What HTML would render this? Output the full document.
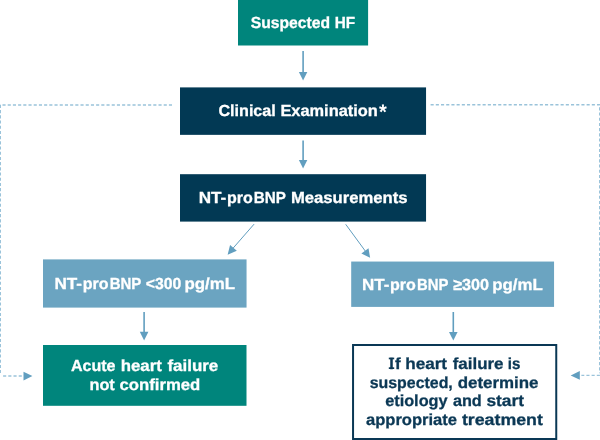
<!DOCTYPE html>
<html>
<head>
<meta charset="utf-8">
<title>Suspected HF flowchart</title>
<style>
  html, body { margin: 0; padding: 0; background: #ffffff; }
  body { width: 600px; height: 440px; overflow: hidden; }
  svg { display: block; }
  text {
    font-family: "Liberation Sans", sans-serif;
    font-weight: bold;
    font-size: 16px;
    text-rendering: geometricPrecision;
  }
  .w { fill: #ffffff; stroke: #ffffff; stroke-width: 0.3px; }
  .a { font-size: 21px; stroke-width: 0; }
  .n { fill: #0b3855; stroke: #0b3855; stroke-width: 0.3px; }
</style>
</head>
<body>
<svg width="600" height="440" viewBox="0 0 600 440">
  <rect x="0" y="0" width="600" height="440" fill="#ffffff"/>

  <!-- dashed side connectors -->
  <g fill="none" stroke="#9ac3da" stroke-width="1.4" stroke-dasharray="3.1 2.1">
    <path d="M172 105 H0.3 V373"/>
    <path d="M3.1 376 H23.5"/>
    <path d="M430.6 104.8 H599.7 V373.2"/>
    <path d="M599.9 375.4 H581.4"/>
  </g>
  <g fill="#619ebf">
    <path d="M23.5 371.8 L32.4 376 L23.5 380.4 Z"/>
    <path d="M579.8 371 L570.7 375.4 L579.8 379.8 Z"/>
  </g>

  <!-- boxes -->
  <rect x="238" y="0" width="130.1" height="45.5" fill="#00857c"/>
  <rect x="180" y="87.4" width="246.05" height="47.45" fill="#023954"/>
  <rect x="180" y="174.2" width="246.05" height="47.4" fill="#023954"/>
  <rect x="43" y="259.4" width="203.55" height="48.2" fill="#6ba4c1"/>
  <rect x="351.2" y="261.55" width="202.85" height="45.35" fill="#6ba4c1"/>
  <rect x="43" y="345" width="203.5" height="60.8" fill="#00857c"/>
  <rect x="353.05" y="345" width="203.2" height="94" fill="#ffffff" stroke="#0a3855" stroke-width="2"/>

  <!-- solid arrows -->
  <g stroke="#619ebf" stroke-width="1.6" fill="none">
    <path d="M303.1 51 V73"/>
    <path d="M303.1 140.5 V161"/>
    <path d="M144.1 312 V333"/>
    <path d="M453.3 312 V333"/>
  </g>
  <g stroke="#619ebf" stroke-width="1" fill="none">
    <path d="M254.1 224.1 L232 249.4"/>
    <path d="M345.7 224.3 L366 252"/>
  </g>
  <g fill="#619ebf">
    <path d="M298.9 71.9 H307.3 L303.1 80.5 Z"/>
    <path d="M298.9 160.1 H307.3 L303.1 168.6 Z"/>
    <path d="M139.8 331.7 H148.4 L144.1 340.4 Z"/>
    <path d="M449 331.9 H457.6 L453.3 340.4 Z"/>
    <path d="M227.6 254.7 L230.1 245 L236.8 250.8 Z"/>
    <path d="M370.1 257.8 L361.4 253.5 L368.5 248.3 Z"/>
  </g>

  <!-- labels -->
  <g style="will-change: transform">
    <text class="w" x="250.70" y="27.75" textLength="79.35" lengthAdjust="spacingAndGlyphs">Suspected</text>
    <text class="w" x="334.71" y="27.75" textLength="20.34" lengthAdjust="spacingAndGlyphs">HF</text>
    <text class="w" x="218.45" y="116.25" textLength="57.35" lengthAdjust="spacingAndGlyphs">Clinical</text>
    <text class="w" x="280.45" y="116.25" textLength="97.35" lengthAdjust="spacingAndGlyphs">Examination</text>
    <text class="w a" x="378.96" y="118.9" textLength="7.80" lengthAdjust="spacingAndGlyphs">*</text>
    <text class="w" x="198.70" y="202.75" textLength="27.60" lengthAdjust="spacingAndGlyphs">NT-</text>
    <text class="w" x="226.96" y="202.75" textLength="25.84" lengthAdjust="spacingAndGlyphs">pro</text>
    <text class="w" x="253.70" y="202.75" textLength="32.10" lengthAdjust="spacingAndGlyphs">BNP</text>
    <text class="w" x="290.95" y="202.75" textLength="116.60" lengthAdjust="spacingAndGlyphs">Measurements</text>
    <text class="w" x="54.45" y="288.6" textLength="27.60" lengthAdjust="spacingAndGlyphs">NT-</text>
    <text class="w" x="82.70" y="288.6" textLength="25.84" lengthAdjust="spacingAndGlyphs">pro</text>
    <text class="w" x="109.71" y="288.6" textLength="31.59" lengthAdjust="spacingAndGlyphs">BNP</text>
    <text class="w" x="145.71" y="288.6" textLength="35.59" lengthAdjust="spacingAndGlyphs">&lt;300</text>
    <text class="w" x="184.46" y="288.6" textLength="50.59" lengthAdjust="spacingAndGlyphs">pg/mL</text>
    <text class="w" x="361.96" y="289.6" textLength="27.34" lengthAdjust="spacingAndGlyphs">NT-</text>
    <text class="w" x="389.95" y="289.6" textLength="25.84" lengthAdjust="spacingAndGlyphs">pro</text>
    <text class="w" x="416.95" y="289.6" textLength="31.34" lengthAdjust="spacingAndGlyphs">BNP</text>
    <text class="w" x="453.21" y="289.6" textLength="35.83" lengthAdjust="spacingAndGlyphs">&#8805;300</text>
    <text class="w" x="492.21" y="289.6" textLength="50.59" lengthAdjust="spacingAndGlyphs">pg/mL</text>
    <text class="w" x="70.95" y="370.9" textLength="44.59" lengthAdjust="spacingAndGlyphs">Acute</text>
    <text class="w" x="120.71" y="370.9" textLength="41.09" lengthAdjust="spacingAndGlyphs">heart</text>
    <text class="w" x="167.45" y="370.9" textLength="50.84" lengthAdjust="spacingAndGlyphs">failure</text>
    <text class="w" x="89.47" y="389.5" textLength="25.33" lengthAdjust="spacingAndGlyphs">not</text>
    <text class="w" x="119.45" y="389.5" textLength="80.85" lengthAdjust="spacingAndGlyphs">confirmed</text>
    <text class="n" x="389.37" y="368.8" textLength="4.51" lengthAdjust="spacingAndGlyphs">I</text>
    <text class="n" x="394.96" y="368.8" textLength="5.65" lengthAdjust="spacingAndGlyphs">f</text>
    <text class="n" x="405.21" y="368.8" textLength="41.84" lengthAdjust="spacingAndGlyphs">heart</text>
    <text class="n" x="452.70" y="368.8" textLength="50.84" lengthAdjust="spacingAndGlyphs">failure</text>
    <text class="n" x="507.71" y="368.8" textLength="12.59" lengthAdjust="spacingAndGlyphs">is</text>
    <text class="n" x="369.70" y="387.5" textLength="83.09" lengthAdjust="spacingAndGlyphs">suspected,</text>
    <text class="n" x="457.70" y="387.5" textLength="80.84" lengthAdjust="spacingAndGlyphs">determine</text>
    <text class="n" x="385.21" y="406.25" textLength="62.34" lengthAdjust="spacingAndGlyphs">etiology</text>
    <text class="n" x="452.95" y="406.25" textLength="28.84" lengthAdjust="spacingAndGlyphs">and</text>
    <text class="n" x="486.46" y="406.25" textLength="37.58" lengthAdjust="spacingAndGlyphs">start</text>
    <text class="n" x="365.95" y="425.0" textLength="91.10" lengthAdjust="spacingAndGlyphs">appropriate</text>
    <text class="n" x="461.95" y="425.0" textLength="80.85" lengthAdjust="spacingAndGlyphs">treatment</text>
    <!-- slab serifs of the capital I -->
    <rect x="388.8" y="357.6" width="5.4" height="1.7" fill="#0b3855"/>
    <rect x="388.8" y="367.3" width="5.4" height="1.7" fill="#0b3855"/>
  </g>
</svg>
</body>
</html>
